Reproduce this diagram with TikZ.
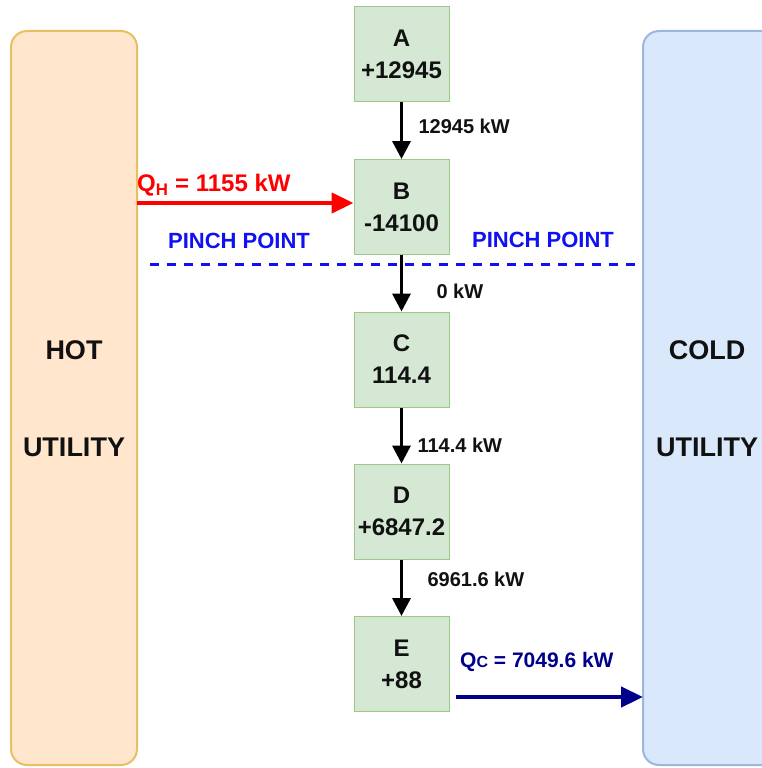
\documentclass[tikz,border=0pt]{standalone}
\usepackage{fontspec}
\setmainfont{Liberation Sans}
\usetikzlibrary{arrows.meta}
\definecolor{hotfill}{HTML}{FFE6CC}
\definecolor{hotline}{HTML}{E8C063}
\definecolor{coldfill}{HTML}{DAE8FC}
\definecolor{coldline}{HTML}{9DB6DF}
\definecolor{boxfill}{HTML}{D5E8D4}
\definecolor{boxline}{HTML}{9CC98A}
\definecolor{navy}{HTML}{00008B}
\definecolor{pinch}{HTML}{1010F0}
\definecolor{ink}{HTML}{111111}
\begin{document}
\begin{tikzpicture}[x=1pt,y=-1pt,
  stepbox/.style={draw=boxline, fill=boxfill, line width=1pt, minimum width=95pt, minimum height=95pt, inner sep=0pt, align=center, font=\fontsize{24}{32}\selectfont\bfseries, text=ink},
  flow/.style={line width=3.5pt, -{Triangle[length=18pt,width=18pt]}},
  flowlbl/.style={font=\fontsize{20}{22}\selectfont\bfseries, anchor=west, text=ink},
  utillbl/.style={font=\fontsize{27}{30}\selectfont\bfseries, text=ink},
  pinchlbl/.style={font=\fontsize{22}{24}\selectfont\bfseries, text=pinch}]
\useasboundingbox (0,0) rectangle (761,768);
% utilities
\draw[draw=hotline, fill=hotfill, line width=2pt, rounded corners=16pt] (11,31) rectangle (137,765);
\draw[draw=coldline, fill=coldfill, line width=2pt, rounded corners=16pt] (643,31) rectangle (790,765);
\node[utillbl] (hot1) at (74,350) {HOT};
\node[utillbl] (hot2) at (74,447) {UTILITY};
\node[utillbl] (cold1) at (707,350) {COLD};
\node[utillbl] (cold2) at (707,447) {UTILITY};
% boxes
\node[stepbox] (A) at (401.5,54) {A\\+12945};
\node[stepbox] (B) at (401.5,207) {B\\-14100};
\node[stepbox] (C) at (401.5,359.5) {C\\114.4};
\node[stepbox] (D) at (401.5,511.5) {D\\+6847.2};
\node[stepbox] (E) at (401.5,664) {E\\+88};
% flows
\draw[flow] (A) -- (B);
\draw[flow] (B) -- (C);
\draw[flow] (C) -- (D);
\draw[flow] (D) -- (E);
\node[flowlbl] (lab) at (415,126) {12945 kW};
\node[flowlbl] (lbc) at (433,291) {0 kW};
\node[flowlbl] (lcd) at (414,445) {114.4 kW};
\node[flowlbl] (lde) at (424,579) {6961.6 kW};
% pinch
\coordinate (p1) at (150,264);
\coordinate (p2) at (640,264);
\draw[pinch, line width=3pt, dash pattern=on 9pt off 8pt] (p1) -- (p2);
\node[pinchlbl] (pl) at (239,241) {PINCH POINT};
\node[pinchlbl] (pr) at (543,240) {PINCH POINT};
% hot utility arrow
\coordinate (qh) at (137,203);
\draw[red, line width=4.5pt, -{Triangle[length=22pt,width=20pt]}] (qh) -- (B.west |- qh);
\node[red, font=\fontsize{24}{26}\selectfont\bfseries, anchor=west, inner sep=0pt] (qhl) at (137,185) {Q\textsubscript{H} = 1155 kW};
% cold utility arrow
\coordinate (qc) at (643,697);
\draw[navy, line width=4.5pt, -{Triangle[length=22pt,width=20pt]}] (E.east |- qc) ++(6,0) -- (qc);
\node[navy, font=\fontsize{21}{23}\selectfont\bfseries, anchor=west, inner sep=0pt] (qcl) at (460,662) {Q{\fontsize{16}{18}\selectfont C} = 7049.6 kW};
\end{tikzpicture}
\end{document}
